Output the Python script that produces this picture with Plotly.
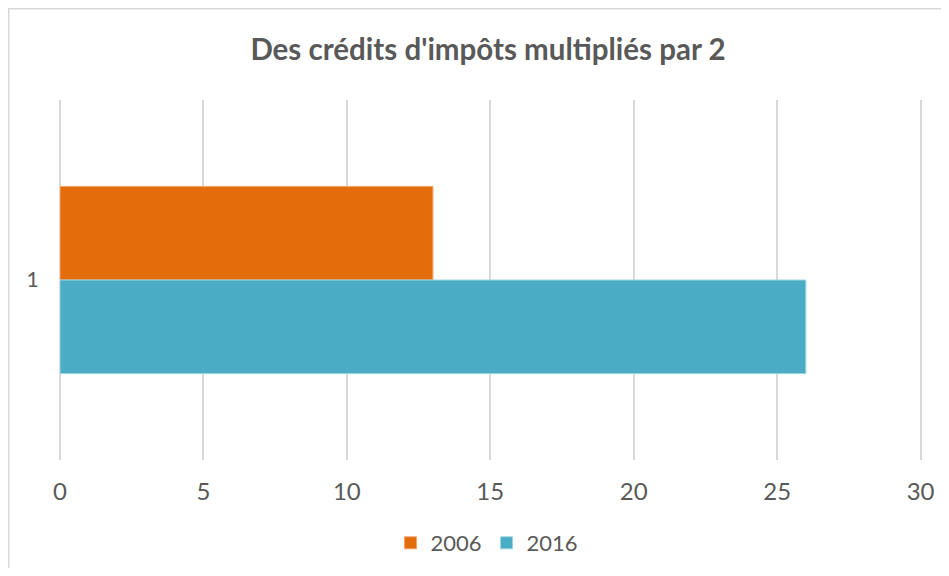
import plotly.graph_objects as go

categories = ["1"]
series_names = ["2006", "2016"]
values_2006 = [13]
values_2016 = [26]
x_ticks = [0, 5, 10, 15, 20, 25, 30]

colors = {"2006": "#E46C0A", "2016": "#4BACC6"}
outline = {"2006": "#F2A46A", "2016": "#9AD3E2"}

fig = go.Figure()
for name, vals in zip(series_names, [values_2006, values_2016]):
    fig.add_trace(go.Bar(
        y=categories, x=vals, name=name, orientation="h",
        marker=dict(color=colors[name], line=dict(color=outline[name], width=1)),
    ))

font_fam = "Lato, Open Sans, sans-serif"
O = 8  # page body margin offset
W, H = 949 - 2 * O, 576 - 2 * O
L, T = 60 - O, 100 - O
x_max = 30.12
pw = round(28.67 * x_max)
ph = 360
R = W - L - pw
B = H - T - ph

fig.update_layout(
    width=W, height=H,
    margin=dict(l=L, r=R, t=T, b=B, autoexpand=False),
    paper_bgcolor="white", plot_bgcolor="white",
    barmode="group", bargap=0.48, bargroupgap=0,
    title=dict(text="<b>Des crédits d'impôts multipliés par 2</b>", x=(488 - O) / W, xanchor="center",
               y=1 - (50 - O) / H, yanchor="middle",
               font=dict(family=font_fam, size=29.5, color="#595959")),
    font=dict(family=font_fam, size=22, color="#595959"),
    showlegend=True,
    legend=dict(orientation="h", x=(487 - O - L) / pw, xanchor="center",
                y=(T + ph - (543 - O)) / ph, yanchor="middle",
                font=dict(size=22, color="#595959"), itemwidth=30, traceorder="normal"),
    xaxis=dict(range=[0, x_max], tickvals=x_ticks, showgrid=True, gridcolor="#D9D9D9", gridwidth=1.5,
               zeroline=True, zerolinecolor="#D9D9D9", zerolinewidth=1.5, showline=False,
               ticks="outside", ticklen=10, tickcolor="rgba(0,0,0,0)", automargin=False,
               tickfont=dict(size=24, color="#595959")),
    yaxis=dict(type="category", autorange="reversed", showgrid=False, zeroline=False,
               ticks="outside", ticklen=16, tickcolor="rgba(0,0,0,0)", automargin=False,
               tickfont=dict(size=21, color="#595959")),
)

fig.add_shape(type="rect", xref="paper", yref="paper",
              x0=(0.75 - L) / pw, x1=(W + 20 - L) / pw,
              y0=(T + ph - (H + 20)) / ph, y1=(T + ph - 0.75) / ph,
              line=dict(color="#D9D9D9", width=1.5), fillcolor="rgba(0,0,0,0)", layer="below")

fig.write_html("out.html")
